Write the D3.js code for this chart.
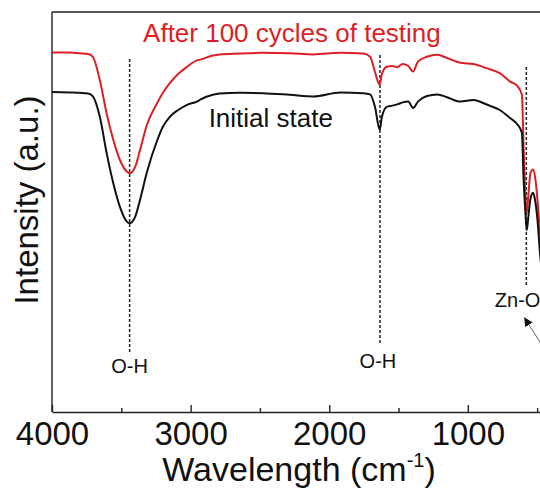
<!DOCTYPE html>
<html>
<head>
<meta charset="utf-8">
<script src="https://cdn.jsdelivr.net/npm/d3@7"></script>
<style>
  html, body { margin: 0; padding: 0; background: #fff; }
  svg { display: block; font-family: "Liberation Sans", Arial, Helvetica, sans-serif; }
</style>
</head>
<body>
<svg id="chart" width="540" height="490"></svg>
<script>
// FTIR spectra: wavenumber (cm^-1) and relative intensity (a.u.)
const wavenumbers = [4000, 3870, 3800, 3740, 3705, 3655, 3605, 3560, 3510, 3460,
  3440, 3400, 3365, 3315, 3240, 3200, 3150, 3090, 3025, 2955,
  2930, 2840, 2790, 2645, 2480, 2285, 2115, 1920, 1755, 1705,
  1670, 1636, 1620, 1585, 1545, 1510, 1470, 1430, 1395, 1360,
  1295, 1220, 1150, 1055, 960, 860, 770, 695, 645, 610,
  598, 587, 575, 562, 548, 530, 515, 497, 483, 443];

const initialState = [80.0, 79.9, 79.8, 79.6, 78.9, 73.8, 64.6, 57.5, 51.3, 47.6,
  47.2, 48.8, 53.0, 60.0, 68.0, 71.3, 73.8, 75.5, 76.8, 77.6,
  78.1, 79.3, 79.6, 79.8, 79.7, 79.3, 78.9, 79.9, 79.7, 79.4,
  76.3, 70.6, 73.8, 76.3, 76.6, 76.9, 77.4, 77.6, 76.0, 77.6,
  79.0, 79.4, 78.7, 77.6, 78.0, 76.8, 75.5, 73.5, 72.0, 69.8,
  58.5, 51.3, 45.5, 49.3, 53.3, 54.8, 53.0, 47.8, 41.3, 28.0];

const after100Cycles = [89.9, 89.9, 89.7, 89.5, 88.8, 83.0, 74.5, 68.3, 63.0, 60.1,
  59.7, 61.3, 65.5, 71.8, 77.3, 79.8, 82.2, 84.5, 86.3, 87.9,
  88.1, 89.1, 89.4, 89.6, 89.8, 89.7, 89.4, 89.8, 89.6, 88.8,
  85.0, 81.8, 84.5, 86.3, 86.5, 86.2, 87.0, 86.5, 85.1, 87.6,
  88.8, 89.3, 88.5, 87.3, 87.0, 85.9, 84.7, 82.6, 81.6, 79.3,
  66.8, 55.5, 49.8, 54.8, 59.8, 60.6, 58.8, 52.8, 46.3, 34.0];

const xTicks = [4000, 3000, 2000, 1000];
const xMinorTicks = [3500, 2500, 1500, 500];

// Assigned absorption bands
const bandWavenumbers = [3440, 1634, 578];
const bandLabels = ["O-H", "O-H", "Zn-O"];

const seriesNames = ["After 100 cycles of testing", "Initial state"];
const seriesColors = ["#dc1f26", "#111111"];

// ---- layout ----
const svg = d3.select("#chart");
svg.append("rect").attr("width", 540).attr("height", 490).attr("fill", "#fff");

const x = d3.scaleLinear().domain([4000, 400]).range([52, 551]);
const y = d3.scaleLinear().domain([0, 100]).range([412, 12]);

const axisColor = "#222";

// frame: left and top edges
svg.append("line")
  .attr("x1", x(4000)).attr("x2", x(4000))
  .attr("y1", y(0)).attr("y2", y(100))
  .attr("stroke", axisColor).attr("stroke-width", 1.4);
svg.append("line")
  .attr("x1", x(4000)).attr("x2", x(400))
  .attr("y1", y(100)).attr("y2", y(100))
  .attr("stroke", axisColor).attr("stroke-width", 1.4);

// bottom axis with inward ticks
const xAxis = d3.axisBottom(x)
  .tickValues(xTicks)
  .tickFormat(d3.format("d"))
  .tickSizeInner(-7)
  .tickSizeOuter(0);

const gx = svg.append("g")
  .attr("transform", `translate(0,${y(0)})`)
  .call(xAxis);
gx.select(".domain").attr("stroke", axisColor).attr("stroke-width", 1.4);
gx.selectAll(".tick line").attr("stroke", axisColor).attr("stroke-width", 1.4);
gx.selectAll(".tick text")
  .attr("y", 33).attr("dy", null)
  .attr("font-size", 33).attr("fill", "#111")
  .attr("font-family", "Liberation Sans, Arial, sans-serif");

const gxMinor = svg.append("g")
  .attr("transform", `translate(0,${y(0)})`)
  .call(d3.axisBottom(x).tickValues(xMinorTicks).tickFormat("").tickSizeInner(-4).tickSizeOuter(0));
gxMinor.select(".domain").remove();
gxMinor.selectAll(".tick line").attr("stroke", axisColor).attr("stroke-width", 1.4);

// axis titles
const xTitle = svg.append("text")
  .attr("x", 299).attr("y", 481)
  .attr("text-anchor", "middle")
  .attr("font-size", 34).attr("fill", "#111");
xTitle.append("tspan").text("Wavelength (cm");
xTitle.append("tspan").attr("font-size", 20).attr("dy", -14).text("-1");
xTitle.append("tspan").attr("dy", 14).text(")");

svg.append("text")
  .attr("transform", "translate(37.5,200) rotate(-90)")
  .attr("text-anchor", "middle")
  .attr("font-size", 33).attr("fill", "#111")
  .text("Intensity (a.u.)");

// band guide lines
const bandSpans = [[88.25, 14.5], [89.25, 16.75], [86.25, 31.75]];
svg.selectAll("line.band")
  .data(bandWavenumbers)
  .join("line")
  .attr("class", "band")
  .attr("x1", d => x(d)).attr("x2", d => x(d))
  .attr("y1", (d, i) => y(bandSpans[i][0]))
  .attr("y2", (d, i) => y(bandSpans[i][1]))
  .attr("stroke", "#222").attr("stroke-width", 1.5)
  .attr("stroke-dasharray", "3,2");

// spectra
const line = d3.line()
  .x(d => x(d[0]))
  .y(d => y(d[1]))
  .curve(d3.curveMonotoneX);

[after100Cycles, initialState].forEach((vals, i) => {
  svg.append("path")
    .datum(wavenumbers.map((w, j) => [w, vals[j]]))
    .attr("fill", "none")
    .attr("stroke", seriesColors[i])
    .attr("stroke-width", 2)
    .attr("stroke-linejoin", "round")
    .attr("d", line);
});

// series labels
svg.append("text")
  .attr("x", x(3343)).attr("y", y(92.5))
  .attr("font-size", 26).attr("fill", seriesColors[0])
  .text(seriesNames[0]);
svg.append("text")
  .attr("x", x(2870)).attr("y", y(71.3))
  .attr("font-size", 26).attr("fill", seriesColors[1])
  .text(seriesNames[1]);

// band labels
svg.append("text")
  .attr("x", x(bandWavenumbers[0])).attr("y", y(9.75))
  .attr("text-anchor", "middle").attr("font-size", 20).attr("fill", "#111")
  .text(bandLabels[0]);
svg.append("text")
  .attr("x", x(bandWavenumbers[1]) - 2).attr("y", y(11))
  .attr("text-anchor", "middle").attr("font-size", 20).attr("fill", "#111")
  .text(bandLabels[1]);
svg.append("text")
  .attr("x", x(805)).attr("y", y(26.25))
  .attr("font-size", 20).attr("fill", "#111")
  .text(bandLabels[2]);

// arrow pointing at the Zn-O label
svg.append("defs").append("marker")
  .attr("id", "arrowHead")
  .attr("viewBox", "0 0 10 10")
  .attr("refX", 9).attr("refY", 5)
  .attr("markerWidth", 9).attr("markerHeight", 9)
  .attr("markerUnits", "userSpaceOnUse")
  .attr("orient", "auto")
  .append("path").attr("d", "M0,0 L10,5 L0,10 Z").attr("fill", "#111");

svg.append("line")
  .attr("x1", x(443)).attr("y1", y(15.5))
  .attr("x2", x(590)).attr("y2", y(23.5))
  .attr("stroke", "#666").attr("stroke-width", 1)
  .attr("marker-end", "url(#arrowHead)");
</script>
</body>
</html>
